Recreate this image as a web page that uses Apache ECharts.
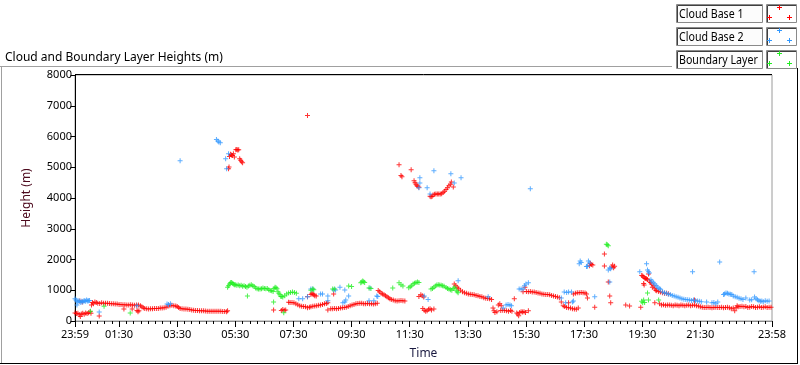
<!DOCTYPE html>
<html><head><meta charset="utf-8">
<script src="https://cdn.jsdelivr.net/npm/echarts@6/dist/echarts.min.js"></script>
<style>html,body{margin:0;padding:0;background:#fff}#c{width:800px;height:365px}</style>
</head><body><div id="c"></div>
<script>
// time in minutes from midnight (-1 = 23:59 previous day), height in metres
const cloudBase1 = [
[-1,260],[2,240],[5,250],[8,200],[10,150],[12,230],[15,250],[18,220],[21,260],[24,240],[27,270],[30,300],[32,250],
[9,650],[14,620],[33,520],[35,600],[37,560],[40,620],[43,600],
[46,580],[50,570],[54,590],[58,580],[62,580],[66,575],[70,570],[74,560],[78,560],[82,550],[86,550],[90,540],[94,535],[98,530],[102,530],[106,520],[110,520],[114,525],[118,520],[122,510],[126,520],[130,520],[134,500],[137,460],[140,430],[143,410],[147,400],[151,390],[155,395],[159,400],[163,405],[167,410],[171,410],[175,420],[179,420],[183,430],[187,450],[191,480],[195,500],[199,510],[203,500],[207,490],[210,470],[213,440],[216,410],[220,400],[224,390],[228,390],[232,380],[236,370],[240,360],[244,350],[248,340],[252,340],[256,330],[260,330],[264,330],[268,325],[272,320],[276,320],[280,320],[284,320],[288,315],[292,315],[296,320],[300,315],[304,310],[308,310],[312,300],[314,330],
[49,160],[100,390],[117,390],[127,340],[129,300],[131,330],
[316,4950],[317,5010],[318,5350],[320,5420],[322,5400],[324,5380],[326,5440],[328,5330],[331,5570],[333,5580],[335,5560],[337,5570],[339,5280],[341,5230],[343,5180],[345,5150],
[409,360],[425,340],[428,370],[431,350],[434,360],
[440,610],[443,600],[447,600],[451,590],[455,560],[459,530],[463,500],[467,480],[471,470],[475,460],[479,430],
[486,860],[488,900],[490,880],[492,850],[494,820],[497,810],[479,790],
[483,450],[486,460],[490,480],[494,490],[498,500],[502,510],[506,520],[510,540],[514,560],[518,570],[521,590],
[521,360],[533,880],
[527,400],[531,400],[535,410],[539,400],[543,410],[547,420],[551,430],[555,440],[559,450],
[563,470],[567,500],[571,520],[575,540],[579,560],[583,570],[587,580],[591,580],[595,560],[599,560],[603,570],[607,560],[611,560],[615,550],[619,560],[623,580],
[625,990],[628,950],[631,900],[634,880],[637,850],[640,820],[643,790],[646,760],[649,720],[652,700],[656,680],[660,660],[664,650],[668,660],[672,670],[676,660],[680,650],
[709,800],[713,850],[716,820],[719,780],
[717,410],[720,350],[723,320],[726,330],[729,380],[732,400],[735,360],[740,390],
[668,5080],[672,4730],[674,4690],[693,4920],[699,4560],[701,4500],[703,4450],[705,4400],[707,4380],[709,4350],[732,4060],[734,4040],[736,4050],[738,4100],[741,4120],[744,4130],[747,4130],[750,4130],[753,4130],[756,4140],[759,4180],[762,4220],[765,4280],[768,4330],[771,4400],[774,4450],[776,4520],[780,4360],
[479,6680],
[782,1200],[785,1150],[788,1100],[791,1050],[795,1000],[799,950],[803,920],[807,900],[811,880],[815,870],[819,860],[823,850],[827,830],[831,820],[835,800],[839,790],[843,760],[847,740],[851,730],[855,720],[859,700],
[862,420],[864,330],[866,280],[870,300],[873,520],[876,560],[879,500],[878,340],[882,350],[886,340],[890,330],[894,320],[898,340],[901,320],
[906,720],
[911,260],[913,230],[915,170],[917,280],[920,300],[923,290],[926,300],[929,280],[935,330],
[924,950],[928,1100],[931,960],[935,950],[939,960],[943,940],[947,940],[951,930],[955,910],[959,900],[963,880],[967,870],[971,860],[975,860],[979,850],[983,830],[987,810],[991,800],[995,780],[999,760],
[1003,620],[1007,500],[1010,470],[1014,440],[1018,590],[1018,430],[1022,420],[1026,400],[1030,390],[1034,380],[1038,420],
[1028,880],[1032,900],[1036,920],[1040,920],[1044,930],[1048,920],[1052,910],[1055,880],
[1057,750],[1072,450],
[1061,1800],[1063,1870],[1065,1840],[1068,1820],
[1092,2180],[1092,1790],[1107,1760],[1109,1820],[1111,1730],[1113,1780],
[1100,1270],[1103,810],[1105,590],
[1136,520],[1144,490],[1167,450],
[1169,1480],[1171,1460],[1173,1430],[1175,1400],[1177,1380],[1179,1370],[1181,1350],[1183,1530],[1185,1300],[1187,1250],[1173,1220],[1174,1170],[1189,1200],[1191,1100],[1194,1150],[1196,1050],[1198,1000],[1200,980],[1204,960],[1208,940],[1212,920],[1216,900],[1220,900],[1224,890],
[1196,590],
[1206,560],[1210,520],[1214,530],[1218,510],[1222,520],[1226,520],[1230,510],[1234,500],[1238,520],[1242,510],[1246,500],[1250,520],[1254,510],[1258,500],[1262,510],[1266,520],[1270,500],[1274,510],[1278,520],[1282,500],[1286,490],[1290,460],[1294,450],[1298,440],[1302,440],[1306,450],[1310,440],[1314,430],[1318,440],[1322,450],[1326,440],[1330,440],[1334,450],[1338,430],[1342,440],[1346,450],[1350,430],[1354,400],[1358,420],[1361,330],[1364,430],[1366,500],[1368,460],[1372,470],[1376,480],[1380,460],[1384,470],[1388,440],[1392,450],[1396,470],[1400,460],[1404,440],[1408,450],[1412,460],[1416,440],[1420,450],[1424,460],[1428,440],[1432,450],[1436,450],
[1278,680]
];
const cloudBase2 = [
[-1,720],[1,680],[3,650],[3,520],[5,620],[7,660],[9,640],[11,600],[13,640],[15,620],[17,650],[19,660],[21,640],[23,680],[25,650],[27,660],[29,670],
[49,290],[127,500],[189,550],[192,540],[196,560],
[216,5210],[291,5900],[294,5850],[296,5820],[299,5800],[316,5440],[310,5280],[312,4950],
[461,720],[469,720],[479,790],[486,1040],[490,1040],[506,880],[510,880],[521,810],[521,660],[533,1010],[537,1010],[546,1100],[552,590],[556,620],[558,680],[556,1010],[564,810],[608,1070],[606,660],[616,660],[622,810],[624,800],[720,810],[728,700],
[711,4660],[711,4490],[709,4330],[726,4330],[732,4130],[740,4890],[775,4790],[782,4490],[796,4660],
[790,1310],[852,790],[883,420],[889,520],[893,540],[897,520],[900,500],[916,1040],[920,1040],[924,1040],[927,1150],[930,1200],[935,1240],[939,4300],
[1003,750],[1009,940],[1012,590],[1014,930],[1018,940],[1024,940],[1026,620],[1028,650],
[1040,1860],[1042,1950],[1044,1900],[1055,1770],[1057,1780],[1059,1950],[1061,1890],
[1072,790],[1100,1660],[1103,1720],[1105,1700],[1103,1270],[1165,1600],[1179,1860],[1181,1660],[1183,1600],[1185,1560],
[1188,1340],[1190,1290],[1193,1240],[1196,1200],[1199,1150],[1202,1100],[1205,1060],[1208,1030],
[1212,940],[1216,920],[1220,900],[1224,870],[1228,860],[1232,830],[1236,810],[1240,790],[1244,770],
[1248,750],[1252,720],[1256,710],[1260,700],[1264,690],[1268,680],[1272,670],[1276,680],[1280,660],[1284,650],[1288,640],[1292,630],
[1274,1600],[1303,620],[1314,590],[1318,600],[1322,560],[1326,620],[1330,1920],
[1338,860],[1340,880],[1343,910],[1346,900],[1349,880],[1352,870],[1355,860],
[1358,810],[1362,790],[1366,770],[1370,740],[1374,720],[1378,700],
[1384,750],[1392,680],[1396,690],[1401,1600],[1402,780],[1405,720],[1408,690],[1411,660],[1414,640],[1417,650],[1420,630],[1424,660],[1428,640],[1432,650]
];
const boundaryLayer = [
[31,320],[59,480],[113,260],
[314,1100],[316,1150],[318,1200],[320,1240],[322,1250],[324,1230],[326,1200],[328,1180],[330,1180],[333,1160],[336,1170],[339,1150],[342,1160],[345,1130],[348,1150],[351,1120],[354,1100],[357,1140],[360,1160],[363,1180],[366,1150],[369,1120],[372,1070],[375,1050],[378,1040],[381,1040],[384,1050],[387,1070],[390,1060],[393,1050],[396,1060],[399,1020],[402,990],[405,980],[408,960],[410,1060],[412,1100],[414,1080],[416,1050],[418,950],[420,900],[422,850],[424,800],[426,800],[428,780],[432,820],[436,880],[440,910],[444,930],[448,940],[452,930],[456,900],
[355,810],[409,620],[430,270],
[486,1000],[490,1040],[492,1020],[531,1040],[535,1040],[564,1140],[570,1120],[589,1240],[591,1270],[593,1300],[595,1280],[597,1250],[606,1070],[610,1060],[655,1070],[668,1240],[672,1180],[676,1140],
[688,1080],[691,1110],[694,1150],[697,1200],[700,1230],[703,1250],[706,1270],[709,1250],
[734,1040],[737,1060],[740,1100],[743,1140],[746,1170],[749,1180],[752,1170],[755,1160],[758,1150],[761,1130],[765,1090],[768,1060],[771,1040],[774,1020],[777,1000],[780,1060],[783,1100],[786,1000],[788,950],[790,920],
[1096,2500],[1098,2480],[1100,2450],[1169,640],[1171,590],[1173,680],[1175,600],[1181,910],[1183,680],[1204,680]
];
const seriesNames = ['Cloud Base 1','Cloud Base 2','Boundary Layer'];
const seriesColors = ['#ff0000','#3399ff','#22ee22'];
const xTickValues = [-1,90,210,330,450,570,690,810,930,1050,1170,1290,1438];
const xTickLabels = ['23:59','01:30','03:30','05:30','07:30','09:30','11:30','13:30','15:30','17:30','19:30','21:30','23:58'];
const xMin = -1, xMax = 1438;
const yMin = 0, yMax = 8000, yStep = 1000;
const minorTicks = [];
for (let t = 0; t <= 1425; t += 15) minorTicks.push(t);

const PLUS = 'path://M2,0H3V5H2Z M0,2H5V3H0Z';
const FONT = 'Noto Sans';
const chart = echarts.init(document.getElementById('c'), null, {renderer:'canvas'});

const legendGraphics = [];
seriesNames.forEach((n, i) => {
  const y0 = 4 + i * 23;
  legendGraphics.push({type:'rect', shape:{x:676.5,y:y0+0.5,width:86,height:18}, style:{fill:'#fcfcfc',stroke:'#8a8a8a',lineWidth:1}});
  legendGraphics.push({type:'polyline', shape:{points:[[677.5,y0+18],[677.5,y0+1.5],[762,y0+1.5]]}, style:{stroke:'#404040',lineWidth:1,fill:null}});
  legendGraphics.push({type:'text', x:679, y:y0+10, scaleX:0.85, style:{text:n, font:'12.5px "'+FONT+'"', fill:'#000', verticalAlign:'middle'}});
  legendGraphics.push({type:'rect', shape:{x:766.5,y:y0+0.5,width:30,height:18}, style:{fill:'#ffffff',stroke:'#8a8a8a',lineWidth:1}});
  legendGraphics.push({type:'polyline', shape:{points:[[767.5,y0+18],[767.5,y0+1.5],[796,y0+1.5]]}, style:{stroke:'#404040',lineWidth:1,fill:null}});
  [[779,y0+3],[769,y0+13],[789,y0+13]].forEach(p => {
    legendGraphics.push({type:'rect', shape:{x:p[0]-2,y:p[1],width:5,height:1}, style:{fill:seriesColors[i]}});
    legendGraphics.push({type:'rect', shape:{x:p[0],y:p[1]-2,width:1,height:5}, style:{fill:seriesColors[i]}});
  });
});

chart.setOption({
  animation:false,
  backgroundColor:'#ffffff',
  title:{text:'Cloud and Boundary Layer Heights (m)', left:0, top:47, textStyle:{fontFamily:FONT, fontSize:12, fontWeight:'normal', color:'#000'}},
  grid:{left:75, right:28, top:75, bottom:44, show:true, borderColor:'#9a9a9a', borderWidth:1},
  xAxis:[{
    type:'value', min:xMin, max:xMax, position:'bottom',
    name:'Time', nameLocation:'middle', nameGap:27,
    nameTextStyle:{fontFamily:FONT, fontSize:12, color:'#1a1a40'},
    axisLine:{show:true, lineStyle:{color:'#8c8c8c', width:1}},
    axisTick:{show:true, customValues:xTickValues, length:6, lineStyle:{color:'#000'}},
    axisLabel:{customValues:xTickValues, formatter:(v)=>xTickLabels[xTickValues.indexOf(v)], fontFamily:FONT, fontSize:11, color:'#000', margin:8, hideOverlap:false, showMinLabel:true, showMaxLabel:true},
    splitLine:{show:false}
  },{
    type:'value', min:xMin, max:xMax, position:'bottom',
    axisLine:{show:false},
    axisTick:{show:true, customValues:minorTicks, length:3, lineStyle:{color:'#000'}},
    axisLabel:{show:false}, splitLine:{show:false}
  }],
  yAxis:{
    type:'value', min:yMin, max:yMax, interval:yStep,
    name:'Height (m)', nameLocation:'middle', nameGap:42, nameRotate:90,
    nameTextStyle:{fontFamily:FONT, fontSize:12, color:'#4d0a1e'},
    axisLine:{show:true, lineStyle:{color:'#000', width:1}},
    axisTick:{show:true, length:5, lineStyle:{color:'#000'}},
    axisLabel:{fontFamily:FONT, fontSize:11, color:'#000', margin:3, formatter:(v)=>String(v)},
    splitLine:{show:false}
  },
  graphic:legendGraphics.concat([
    {type:'line', shape:{x1:0,y1:66.5,x2:672,y2:66.5}, style:{stroke:'#a0a0a0',lineWidth:1}},
    {type:'line', shape:{x1:1.5,y1:66,x2:1.5,y2:364}, style:{stroke:'#a0a0a0',lineWidth:1}},
    {type:'line', shape:{x1:0,y1:363.5,x2:798,y2:363.5}, style:{stroke:'#000',lineWidth:1}},
    {type:'line', shape:{x1:797.5,y1:68,x2:797.5,y2:364}, style:{stroke:'#000',lineWidth:1}},
    {type:'line', shape:{x1:75,y1:74.5,x2:772,y2:74.5}, style:{stroke:'#000',lineWidth:1}}
  ]),
  series:[cloudBase1, cloudBase2, boundaryLayer].map((d,i)=>({
    type:'scatter', name:seriesNames[i], data:d, xAxisIndex:0,
    symbol:PLUS, symbolSize:5, itemStyle:{color:seriesColors[i]}, silent:true
  }))
});
</script></body></html>
